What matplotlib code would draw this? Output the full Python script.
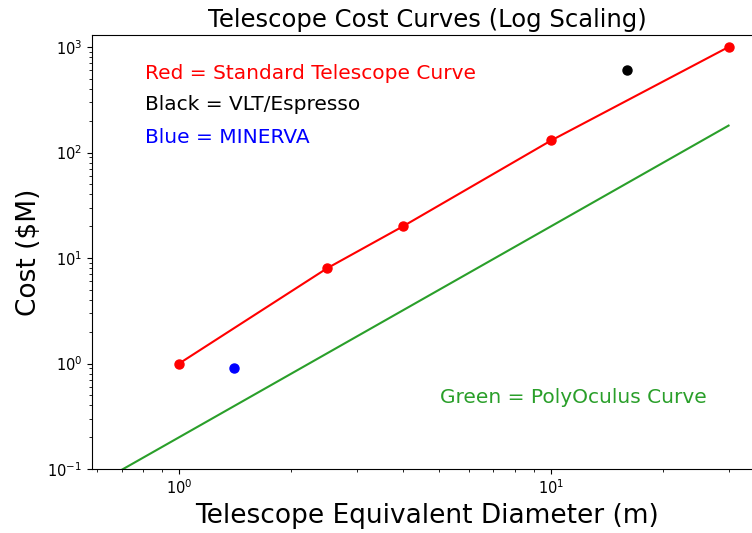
import matplotlib
matplotlib.use("Agg")
import matplotlib.pyplot as plt

# Data
std_diam = [1, 2.5, 4, 10, 30]
std_cost = [1, 8, 20, 130, 1000]
vlt_diam = [16]
vlt_cost = [600]
minerva_diam = [1.4]
minerva_cost = [0.9]
poly_diam = [0.5, 30]
poly_cost = [0.05, 180]

GREEN = '#2a9f2a'

fig = plt.figure(figsize=(7.52, 5.33), dpi=100)
ax = fig.add_axes([92/752, 1-469/533, (762-92)/752, (469-35)/533])

ax.plot(std_diam, std_cost, color='red', marker='o', markersize=6.5, linewidth=1.5)
ax.plot(vlt_diam, vlt_cost, color='black', marker='o', markersize=6.5, linestyle='none')
ax.plot(minerva_diam, minerva_cost, color='blue', marker='o', markersize=6.5, linestyle='none')
ax.plot(poly_diam, poly_cost, color=GREEN, linewidth=1.5)

ax.set_xscale('log')
ax.set_yscale('log')
ax.set_xlim(0.583, 36.9)
ax.set_ylim(0.1, 1300)

ax.set_title('Telescope Cost Curves (Log Scaling)', fontsize=17.5)
ax.set_xlabel('Telescope Equivalent Diameter (m)', fontsize=19)
ax.set_ylabel('Cost ($M)', fontsize=19)
ax.tick_params(labelsize=10.5)

ax.text(0.81, 567, 'Red = Standard Telescope Curve', color='red', fontsize=14.5, va='center')
ax.text(0.81, 288, 'Black = VLT/Espresso', color='black', fontsize=14.5, va='center')
ax.text(0.81, 140, 'Blue = MINERVA', color='blue', fontsize=14.5, va='center')
ax.text(5.03, 0.48, 'Green = PolyOculus Curve', color=GREEN, fontsize=14.5, va='center')

fig.savefig('out.png', dpi=100)
